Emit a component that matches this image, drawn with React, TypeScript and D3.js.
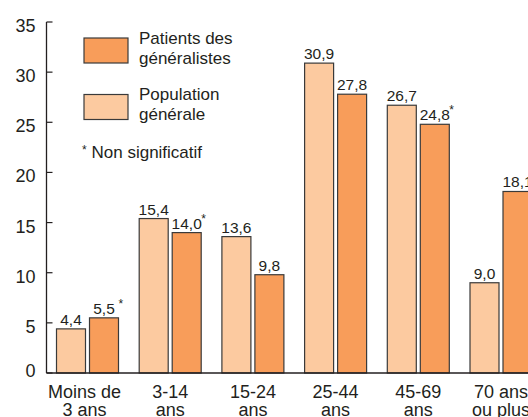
import React from "react";
import * as d3 from "d3";

// Age groups (two-line labels)
const categories = ["Moins de 3 ans", "3-14 ans", "15-24 ans", "25-44 ans", "45-69 ans", "70 ans ou plus"];
const categoryLines = [
  ["Moins de", "3 ans"],
  ["3-14", "ans"],
  ["15-24", "ans"],
  ["25-44", "ans"],
  ["45-69", "ans"],
  ["70 ans", "ou plus"],
];
// Population générale
const populationValues = [4.4, 15.4, 13.6, 30.9, 26.7, 9.0];
// Patients des généralistes
const patientValues = [5.5, 14.0, 9.8, 27.8, 24.8, 18.1];
// Non-significant differences flagged with an asterisk
const patientNotSignificant = [true, true, false, false, true, false];
const yTicks = [0, 5, 10, 15, 20, 25, 30, 35];

const LIGHT = "#FCCAA0";
const DARK = "#F89D5A";
const STROKE = "#3a3a3a";
const TEXT = "#231f20";
const FONT = "Liberation Sans, Arial, sans-serif";

export default function App() {
  const width = 528;
  const height = 417;
  const axisX = 46.5;
  const baseY = 373;

  const y = d3.scaleLinear().domain([0, 35]).range([baseY, 22]);
  const step = 82.7;
  const groupW = 63;
  const x = d3
    .scaleBand<string>()
    .domain(categories)
    .range([56, 56 + categories.length * step - (step - groupW)])
    .paddingInner((step - groupW) / step)
    .paddingOuter(0);
  const inner = d3
    .scaleBand<string>()
    .domain(["pop", "pat"])
    .range([0, x.bandwidth()])
    .paddingInner(3 / 33);

  const fmt = (v: number) => d3.format(".1f")(v).replace(".", ",");

  const series = [
    { key: "pop", values: populationValues, fill: LIGHT, flags: populationValues.map(() => false) },
    { key: "pat", values: patientValues, fill: DARK, flags: patientNotSignificant },
  ];

  return (
    <svg width={width} height={height} style={{ position: "absolute", left: 0, top: 0, background: "#fff" }}>
      <g fontFamily={FONT} fill={TEXT}>
        {/* bars */}
        {series.map((s) =>
          s.values.map((v, i) => {
            const bx = (x(categories[i]) ?? 0) + (inner(s.key) ?? 0);
            const bw = inner.bandwidth();
            const top = y(v);
            return (
              <g key={s.key + i}>
                <rect
                  x={bx + 0.5}
                  y={top}
                  width={bw - 1}
                  height={baseY - top}
                  fill={s.fill}
                  stroke={STROKE}
                  strokeWidth={1.2}
                />
                <text x={bx + bw / 2} y={top - 4} textAnchor="middle" fontSize={15.5}>
                  {fmt(v)}
                </text>
                {s.flags[i] && (
                  <text x={bx + bw / 2 + 14.5} y={top - 10} textAnchor="start" fontSize={12}>
                    *
                  </text>
                )}
              </g>
            );
          })
        )}

        {/* y axis */}
        <line x1={axisX} x2={axisX} y1={y(35)} y2={baseY} stroke={TEXT} strokeWidth={1.3} />
        {yTicks.map((t) => (
          <g key={t}>
            <line x1={axisX} x2={axisX + 6} y1={y(t)} y2={y(t)} stroke={TEXT} strokeWidth={1.2} />
            <text x={35.5} y={y(t) + (t === 0 ? 3.5 : 10)} textAnchor="end" fontSize={18}>
              {t}
            </text>
          </g>
        ))}
        {/* x axis */}
        <line x1={axisX} x2={width} y1={baseY} y2={baseY} stroke={TEXT} strokeWidth={1.3} />

        {/* category labels */}
        {categories.map((c, i) => {
          const cx = (x(c) ?? 0) + x.bandwidth() / 2 - (i === 0 ? 3 : 0);
          return (
            <text key={c} x={cx} textAnchor="middle" fontSize={18}>
              {categoryLines[i].map((line, j) => (
                <tspan key={j} x={cx} y={398 + j * 18}>
                  {line}
                </tspan>
              ))}
            </text>
          );
        })}

        {/* legend */}
        <rect x={84} y={38} width={44} height={25} fill={DARK} stroke={STROKE} strokeWidth={1.2} />
        <text x={139} y={43.5} fontSize={17}>Patients des</text>
        <text x={139} y={63.5} fontSize={17}>généralistes</text>
        <rect x={84} y={94.5} width={44} height={25} fill={LIGHT} stroke={STROKE} strokeWidth={1.2} />
        <text x={139} y={100} fontSize={17}>Population</text>
        <text x={139} y={120} fontSize={17}>générale</text>
        <text x={82} y={154} fontSize={12}>*</text>
        <text x={91.5} y={158} fontSize={17}>Non significatif</text>
      </g>
    </svg>
  );
}
